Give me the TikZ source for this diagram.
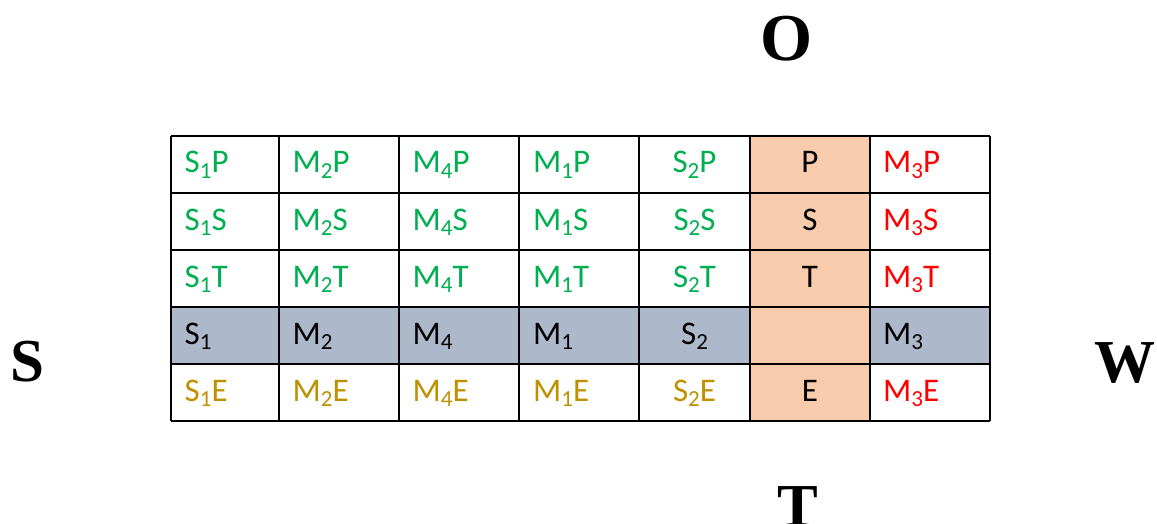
\documentclass[tikz,border=0pt]{standalone}
\usepackage{fontspec}
\setmainfont{Carlito}
\newfontfamily\bigserif{Liberation Serif}
\definecolor{cgreen}{HTML}{00B050}
\definecolor{cred}{HTML}{FF0000}
\definecolor{cgold}{HTML}{BF9000}
\definecolor{corange}{HTML}{F8CBAD}
\definecolor{cgrey}{HTML}{ADB9CA}
\newcommand\subx[1]{\raisebox{-5.5pt}{\fontsize{23}{25}\selectfont #1}}
\tikzset{
  cell/.style={inner sep=0pt, font=\fontsize{33}{36}\selectfont},
  lcell/.style={cell, anchor=base west},
  ccell/.style={cell, anchor=base},
  axislab/.style={inner sep=0pt, anchor=base, font=\bigserif\bfseries\fontsize{61}{64}\selectfont},
  gridline/.style={line width=1.6pt, black},
}
\begin{document}
\begin{tikzpicture}[x=1pt,y=-1pt]
\useasboundingbox (0,0) rectangle (1157,524);
\fill[white] (0,0) rectangle (1157,524);
% fills
\fill[cgrey] (171,307) rectangle (990,364);
\fill[corange] (750,136) rectangle (870,421);
% grid
\foreach \y in {136,193,250,307,364,421} \draw[gridline] (171,\y) -- (990,\y);
\foreach \x in {171,279,399,519,639,750,870,990} \draw[gridline] (\x,136) -- (\x,421);
% row 1 (baseline 173)
\node[lcell, text=cgreen] (s1p) at (184.5,173) {S\subx{1}P};
\node[lcell, text=cgreen] (m2p) at (292.5,173) {M\subx{2}P};
\node[lcell, text=cgreen] (m4p) at (412.5,173) {M\subx{4}P};
\node[lcell, text=cgreen] (m1p) at (533,173) {M\subx{1}P};
\node[ccell, text=cgreen] (s2p) at (694.5,173) {S\subx{2}P};
\node[ccell] (p) at (810,173) {P};
\node[lcell, text=cred] (m3p) at (883,173) {M\subx{3}P};
% row 2 (baseline 230)
\node[lcell, text=cgreen] (s1s) at (184.5,230) {S\subx{1}S};
\node[lcell, text=cgreen] (m2s) at (292.5,230) {M\subx{2}S};
\node[lcell, text=cgreen] (m4s) at (412.5,230) {M\subx{4}S};
\node[lcell, text=cgreen] (m1s) at (533,230) {M\subx{1}S};
\node[ccell, text=cgreen] (s2s) at (694.5,230) {S\subx{2}S};
\node[ccell] (s) at (810,230) {S};
\node[lcell, text=cred] (m3s) at (883,230) {M\subx{3}S};
% row 3 (baseline 287)
\node[lcell, text=cgreen] (s1t) at (184.5,287) {S\subx{1}T};
\node[lcell, text=cgreen] (m2t) at (292.5,287) {M\subx{2}T};
\node[lcell, text=cgreen] (m4t) at (412.5,287) {M\subx{4}T};
\node[lcell, text=cgreen] (m1t) at (533,287) {M\subx{1}T};
\node[ccell, text=cgreen] (s2t) at (694.5,287) {S\subx{2}T};
\node[ccell] (t) at (810,287) {T};
\node[lcell, text=cred] (m3t) at (883,287) {M\subx{3}T};
% row 4 (baseline 344)
\node[lcell] (s1) at (184.5,344) {S\subx{1}};
\node[lcell] (m2) at (292.5,344) {M\subx{2}};
\node[lcell] (m4) at (412.5,344) {M\subx{4}};
\node[lcell] (m1) at (533,344) {M\subx{1}};
\node[ccell] (s2) at (694.5,344) {S\subx{2}};
\node[lcell] (m3) at (883,344) {M\subx{3}};
% row 5 (baseline 401)
\node[lcell, text=cgold] (s1e) at (184.5,401) {S\subx{1}E};
\node[lcell, text=cgold] (m2e) at (292.5,401) {M\subx{2}E};
\node[lcell, text=cgold] (m4e) at (412.5,401) {M\subx{4}E};
\node[lcell, text=cgold] (m1e) at (533,401) {M\subx{1}E};
\node[ccell, text=cgold] (s2e) at (694.5,401) {S\subx{2}E};
\node[ccell] (e) at (810,401) {E};
\node[lcell, text=cred] (m3e) at (883,401) {M\subx{3}E};
% compass letters
\node[axislab, font=\bigserif\bfseries\fontsize{67}{70}\selectfont] (north) at (787,61) {O};
\node[axislab] (west) at (27.5,381) {S};
\node[axislab] (east) at (1125,382) {W};
\node[axislab] (south) at (798,526) {T};
\end{tikzpicture}
\end{document}
